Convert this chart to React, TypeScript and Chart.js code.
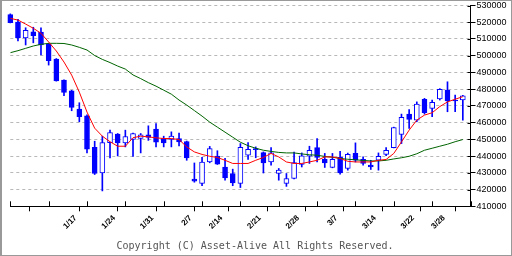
import { useEffect, useRef } from 'react';
import { Chart, registerables } from 'chart.js';

Chart.register(...registerables);

// ---- data ----
const dateLabels = ['1/17', '1/24', '1/31', '2/7', '2/14', '2/21', '2/28', '3/7', '3/14', '3/22', '3/28'];
const dateIndex = [8, 13, 18, 23, 27, 32, 37, 42, 47, 52, 56];
const weekTicks = [0, 5, 10, 15, 20, 25, 30, 35, 40, 45, 50, 55, 60];

const opens = [
  524500, 520100, 510700, 514300, 514100, 506800, 498000, 485400, 479000, 468100,
  464100, 445300, 430000, 448100, 453100, 447900, 449900, 450500, 452700, 456100,
  450500, 449900, 450500, 448700, 426200, 423600, 436500, 440000, 433500, 429600,
  423600, 440500, 444500, 442100, 436500, 429600, 423600, 426600, 435000, 439900,
  445100, 438000, 433200, 439200, 432600, 441600, 438000, 434600, 437500, 441000,
  445100, 452900, 465100, 461500, 473900, 468500, 474200, 479400, 473500, 473500,
];
const closes = [
  519700, 510700, 515200, 511900, 506400, 497000, 485000, 478100, 469100, 463500,
  444100, 429600, 448100, 454100, 447900, 451700, 453500, 452700, 451100, 448300,
  447900, 451900, 448500, 438900, 425000, 436500, 444500, 435200, 427000, 424000,
  445200, 444000, 443900, 435900, 441900, 431600, 426600, 436200, 440100, 443500,
  439200, 435900, 438100, 429900, 441100, 437500, 435600, 433500, 439900, 443400,
  457100, 463100, 461900, 471100, 465900, 472100, 479900, 473000, 473000, 476000,
];
const highs = [
  525000, 521700, 516700, 517000, 516700, 507400, 498300, 485600, 479300, 471900,
  464700, 448900, 451900, 455500, 453500, 455500, 453800, 453500, 458100, 459500,
  451900, 454500, 453700, 449000, 435900, 439200, 445800, 443200, 438600, 432200,
  447500, 448100, 445500, 442500, 445100, 432600, 429600, 442400, 441900, 445900,
  450400, 441600, 441600, 442900, 441800, 447900, 439500, 437500, 441900, 445100,
  457300, 465100, 467800, 472400, 474500, 473500, 480300, 484400, 476400, 476300,
];
const lows = [
  519600, 508900, 506400, 507700, 500400, 494400, 484800, 476100, 467100, 460500,
  441900, 429000, 419200, 438900, 440100, 445500, 439800, 441900, 449400, 445500,
  445500, 445500, 446100, 437500, 424400, 422300, 436000, 435000, 425600, 422300,
  421200, 438000, 439000, 429900, 434600, 425600, 421900, 426300, 433500, 435600,
  436500, 433200, 433000, 429200, 431600, 436500, 434600, 432000, 431600, 440300,
  444900, 447500, 456500, 460500, 465100, 463500, 473500, 466500, 466500, 461500,
];
const maShort = [
  522300, 521300, 518900, 516400, 513400, 508200, 502800, 496200, 488400, 478200,
  466300, 456700, 451900, 448600, 445900, 445900, 451000, 451900, 451500, 450900,
  450500, 450500, 449900, 445500, 442500, 441000, 439900, 439200, 437500, 435600,
  435600, 435600, 437500, 439200, 441600, 439500, 436500, 435600, 435600, 436500,
  437500, 439500, 439500, 438600, 436900, 436500, 436500, 436500, 437500, 438000,
  441600, 448500, 455500, 461500, 464500, 465900, 469600, 472400, 474000, 475500,
];
const maLong = [
  501800, 503000, 504400, 505800, 506800, 507400, 507400, 507300, 506400, 505000,
  503400, 500100, 497800, 495900, 493800, 492000, 488500, 486300, 483900, 481800,
  479400, 477000, 473500, 470500, 467200, 463900, 460300, 457300, 454300, 451300,
  448300, 446200, 444700, 443500, 442800, 442200, 441900, 441900, 441300, 440800,
  440500, 439800, 439300, 438600, 438100, 437800, 437400, 437100, 437100, 437500,
  438300, 439000, 439900, 441400, 443500, 444700, 445900, 447100, 448600, 449900,
];
const yMin = 410000;
const yMax = 530000;
const yStep = 10000;

const BLUE = '#0000ff';

const innerTicks = {
  id: 'innerTicks',
  afterDraw(chart: any) {
    const { ctx, chartArea, scales } = chart;
    ctx.save();
    ctx.strokeStyle = '#000';
    ctx.lineWidth = 1;
    scales.x.ticks.forEach((t: any) => {
      if (t.value % 5 !== 0) return;
      const px = Math.round(scales.x.getPixelForValue(t.value)) + 0.5;
      ctx.beginPath();
      ctx.moveTo(px, chartArea.bottom - 5);
      ctx.lineTo(px, chartArea.bottom);
      ctx.stroke();
    });
    scales.y.ticks.forEach((t: any) => {
      const py = Math.round(scales.y.getPixelForValue(t.value)) + 0.5;
      ctx.beginPath();
      ctx.moveTo(chartArea.right - 3, py);
      ctx.lineTo(chartArea.right, py);
      ctx.stroke();
    });
    ctx.restore();
  },
};

export default function App() {
  const ref = useRef<HTMLCanvasElement>(null);
  useEffect(() => {
    document.body.style.margin = '0';
    const idx = opens.map((_, i) => i);
    const up = idx.map((i) => closes[i] >= opens[i]);
    const chart = new Chart(ref.current as HTMLCanvasElement, {
      type: 'bar',
      data: {
        datasets: [
          {
            type: 'line',
            data: idx.map((i) => ({ x: i, y: maShort[i] })),
            borderColor: '#ff0000',
            borderWidth: 1,
            pointRadius: 0,
            tension: 0,
            order: 0,
          } as any,
          {
            type: 'line',
            data: idx.map((i) => ({ x: i, y: maLong[i] })),
            borderColor: '#006400',
            borderWidth: 1,
            pointRadius: 0,
            tension: 0,
            order: 0,
          } as any,
          {
            type: 'bar',
            data: idx.map((i) => ({ x: i, y: [opens[i], closes[i]] })),
            backgroundColor: up.map((u) => (u ? '#ffffff' : BLUE)),
            borderColor: BLUE,
            borderWidth: 1,
            borderSkipped: false,
            barThickness: 5,
            grouped: false,
            clip: false,
            order: 1,
          } as any,
          {
            type: 'bar',
            data: idx.map((i) => ({ x: i, y: [lows[i], highs[i]] })),
            backgroundColor: BLUE,
            borderWidth: 0,
            barThickness: 1,
            grouped: false,
            clip: false,
            order: 2,
          } as any,
        ],
      },
      options: {
        responsive: false,
        animation: false,
        layout: { padding: { left: 8.3, top: 4.5, right: 0, bottom: 0 } },
        plugins: {
          legend: { display: false },
          tooltip: { enabled: false },
          title: { display: false },
        },
        scales: {
          x: {
            type: 'linear',
            min: 0,
            max: 60,
            offset: false,
            afterBuildTicks: (s: any) => {
              const vals = Array.from(new Set([...weekTicks, ...dateIndex])).sort((a, b) => a - b);
              s.ticks = vals.map((v) => ({ value: v }));
            },
            afterFit: (s: any) => {
              s.height = 48.7;
              s.paddingLeft = 0;
              s.paddingRight = 0;
            },
            ticks: {
              autoSkip: false,
              minRotation: 45,
              maxRotation: 45,
              padding: 2,
              labelOffset: 4,
              color: '#000',
              font: { family: 'Liberation Sans', size: 8, weight: 'bold' },
              callback: (v: any) => {
                const k = dateIndex.indexOf(Number(v));
                return k >= 0 ? dateLabels[k] : '';
              },
            },
            grid: {
              drawOnChartArea: true,
              color: (c: any) => (c.tick && c.tick.value === 0 ? '#000' : 'rgba(0,0,0,0)'),
              tickColor: (c: any) => (c.tick && c.tick.value % 5 === 0 ? '#000' : 'rgba(0,0,0,0)'),
              tickLength: 5,
              lineWidth: 1,
            },
            border: { color: '#000', width: 1 },
          } as any,
          y: {
            type: 'linear',
            position: 'right',
            min: yMin,
            max: yMax,
            afterFit: (s: any) => {
              s.width = 40.5;
              s.paddingTop = 0;
              s.paddingBottom = 0;
            },
            ticks: {
              stepSize: yStep,
              padding: 1,
              color: '#000',
              font: { family: 'Liberation Sans', size: 9 },
              callback: (v: any) => String(v),
            },
            grid: {
              color: (c: any) => (c.tick && c.tick.value === yMin ? 'rgba(0,0,0,0)' : '#b8b8b8'),
              tickColor: '#000',
              tickLength: 5,
              lineWidth: 1,
            },
            border: { color: '#000', width: 1, dash: [3, 3] },
          } as any,
        },
      },
      plugins: [innerTicks],
    });
    return () => chart.destroy();
  }, []);

  return (
    <div
      style={{
        position: 'relative',
        width: 512,
        height: 256,
        boxSizing: 'border-box',
        borderTop: '1px solid #999',
        borderRight: '1px solid #999',
        borderBottom: '1px solid #999',
        borderLeft: '2px solid #999',
        background: '#fff',
      }}
    >
      <canvas ref={ref} width={509} height={254} style={{ display: 'block', width: 509, height: 254 }} />
      <div
        style={{
          position: 'absolute',
          left: -2,
          top: 239,
          width: 510,
          textAlign: 'center',
          fontFamily: '"DejaVu Sans Mono", monospace',
          fontSize: 10,
          lineHeight: '12px',
          color: '#555',
          whiteSpace: 'nowrap',
        }}
      >
        Copyright (C) Asset-Alive All Rights Reserved.
      </div>
    </div>
  );
}
